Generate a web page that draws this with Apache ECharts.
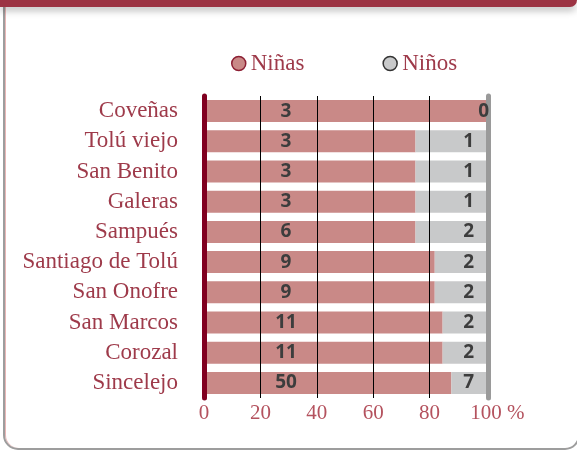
<!DOCTYPE html>
<html>
<head>
<meta charset="utf-8">
<script src="https://cdn.jsdelivr.net/npm/echarts@6/dist/echarts.min.js"></script>
<style>
	html, body { margin: 0; padding: 0; background: #fff; }
	#wrap { position: relative; width: 577px; height: 450px; overflow: hidden; }
	#box { position: absolute; left: 3px; top: -20px; width: 577px; height: 470px;
		border: 2px solid #9d9d9d; border-radius: 15px; box-shadow: inset 1px 0 0 #e9b6b6; box-sizing: border-box; }
	#band { position: absolute; left: 0; top: 0; width: 577px; height: 7px; background: #9c3343;
		border-bottom-right-radius: 8px; box-shadow: 0 4px 7px rgba(0,0,0,0.25); }
	#main { position: absolute; left: 0; top: 0; width: 577px; height: 450px; }
</style>
</head>
<body>
<div id="wrap">
	<div id="box"></div>
	<div id="band"></div>
	<div id="main"></div>
</div>
<script>
	// municipios, de arriba hacia abajo
	var municipios = ['Coveñas', 'Tolú viejo', 'San Benito', 'Galeras', 'Sampués',
		'Santiago de Tolú', 'San Onofre', 'San Marcos', 'Corozal', 'Sincelejo'];
	var ninas = [3, 3, 3, 3, 6, 9, 9, 11, 11, 50];
	var ninos = [0, 1, 1, 1, 2, 2, 2, 2, 2, 7];
	var ticksX = [20, 40, 60, 80];

	var rojo = '#9e3a4a';
	var serif = '"Liberation Serif", "DejaVu Serif", serif';

	// porcentajes para la barra apilada al 100 %
	var pctNinas = [];
	var pctNinos = [];
	for (var i = 0; i < municipios.length; i++) {
		var total = ninas[i] + ninos[i];
		pctNinas.push({ value: ninas[i] / total * 100, cuenta: ninas[i] });
		var d = { value: ninos[i] / total * 100, cuenta: ninos[i] };
		if (ninos[i] === 0) {
			d.label = { offset: [15, 0] };
		}
		pctNinos.push(d);
	}

	var chart = echarts.init(document.getElementById('main'));

	var etiqueta = {
		show: true,
		fontFamily: '"Open Sans", sans-serif',
		fontWeight: 700,
		fontSize: 19,
		color: '#3d3d3d',
		formatter: function (p) { return p.data.cuenta; }
	};

	option = {
		animation: false,
		legend: {
			top: 47,
			left: 226,
			itemGap: 78,
			itemWidth: 14,
			itemHeight: 14,
			icon: 'circle',
			textStyle: { fontFamily: serif, fontSize: 23, color: rojo },
			data: [
				{ name: 'Niñas', itemStyle: { borderColor: '#8c1f33', borderWidth: 1.5 } },
				{ name: 'Niños', itemStyle: { borderColor: '#333', borderWidth: 1.5 } }
			]
		},
		grid: { left: 204, right: 91, top: 96, height: 302 },
		xAxis: {
			type: 'value',
			min: 0,
			max: 100,
			interval: 20,
			axisLine: { show: false },
			axisTick: { show: false },
			splitLine: { show: false },
			axisLabel: {
				margin: 5,
				fontFamily: serif,
				fontSize: 21,
				color: '#b4525e',
				formatter: function (v) { return v === 100 ? '{h| %}100 %' : v; },
				rich: { h: { color: 'transparent', fontFamily: serif, fontSize: 21 } }
			}
		},
		yAxis: [{
			type: 'category',
			inverse: true,
			data: municipios,
			z: 3,
			offset: 1,
			axisLine: { lineStyle: { color: '#800020', width: 5 } },
			axisTick: { show: false },
			axisLabel: { margin: 25, fontFamily: serif, fontSize: 23, color: rojo }
		}, {
			type: 'category',
			inverse: true,
			position: 'right',
			data: municipios,
			offset: 2,
			axisLine: { lineStyle: { color: '#9a9a9a', width: 5 } },
			axisTick: { show: false },
			axisLabel: { show: false }
		}],
		series: [{
			name: 'Niñas',
			type: 'bar',
			stack: 'total',
			barWidth: 22,
			itemStyle: { color: '#c98987' },
			label: Object.assign({}, etiqueta, { position: [82, '50%'], align: 'center', verticalAlign: 'middle' }),
			data: pctNinas
		}, {
			name: 'Niños',
			type: 'bar',
			stack: 'total',
			barWidth: 22,
			itemStyle: { color: '#c8c9ca' },
			label: Object.assign({}, etiqueta, { position: 'insideRight', distance: 12 }),
			markLine: {
				silent: true,
				symbol: ['none', 'none'],
				label: { show: false },
				lineStyle: { color: '#000', width: 1, type: 'solid' },
				data: ticksX.map(function (t) { return { xAxis: t }; })
			},
			data: pctNinos
		}]
	};

	chart.setOption(option);
</script>
</body>
</html>
